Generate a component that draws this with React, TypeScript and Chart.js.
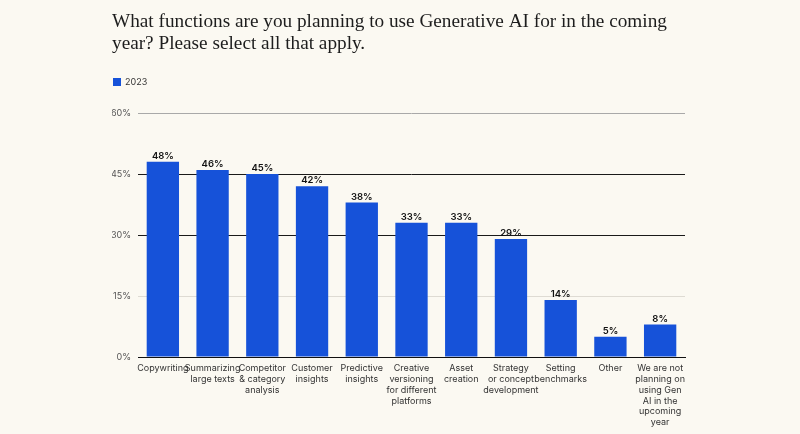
import React, { useEffect, useRef } from "react";
import { Chart, registerables } from "chart.js";

Chart.register(...registerables);

const titleLines = [
  "What functions are you planning to use Generative AI for in the coming",
  "year? Please select all that apply.",
];
const seriesName = "2023";
const categories: string[][] = [
  ["Copywriting"],
  ["Summarizing", "large texts"],
  ["Competitor", "& category", "analysis"],
  ["Customer", "insights"],
  ["Predictive", "insights"],
  ["Creative", "versioning", "for different", "platforms"],
  ["Asset", "creation"],
  ["Strategy", "or concept", "development"],
  ["Setting", "benchmarks"],
  ["Other"],
  ["We are not", "planning on", "using Gen", "AI in the", "upcoming", "year"],
];
const values = [48, 46, 45, 42, 38, 33, 33, 29, 14, 5, 8];
const yTicks = [0, 15, 30, 45, 60];

const BAR = "#1652d9";
const BG = "#fbf9f2";

export default function App() {
  const ref = useRef<HTMLCanvasElement>(null);
  useEffect(() => {
    document.body.style.margin = "0";
    const canvas = ref.current!;
    const labelPlugin = {
      id: "extras",
      afterDatasetsDraw(chart: any) {
        const ctx = chart.ctx;
        const meta = chart.getDatasetMeta(0);
        ctx.save();
        ctx.fillStyle = "#111";
        ctx.font = "600 9.5px Inter, 'Liberation Sans', sans-serif";
        ctx.textAlign = "center";
        ctx.textBaseline = "bottom";
        meta.data.forEach((bar: any, i: number) => {
          ctx.fillText(values[i] + "%", bar.x, bar.y - 1);
        });
        ctx.restore();
      },
      afterDraw(chart: any) {
        const ctx = chart.ctx;
        ctx.save();
        ctx.fillStyle = "#1d1d1d";
        ctx.font = "19.25px 'Liberation Serif', 'DejaVu Serif', serif";
        ctx.textAlign = "left";
        ctx.textBaseline = "alphabetic";
        ctx.fillText(titleLines[0], 112, 27);
        ctx.fillText(titleLines[1], 112, 49);
        ctx.fillStyle = BAR;
        ctx.fillRect(113, 78, 8, 8);
        ctx.fillStyle = "#333";
        ctx.font = "9px Inter, 'Liberation Sans', sans-serif";
        ctx.textBaseline = "middle";
        ctx.fillText(seriesName, 125, 82);
        ctx.restore();
      },
    };
    const chart = new Chart(canvas, {
      type: "bar",
      data: {
        labels: categories,
        datasets: [
          {
            label: seriesName,
            data: values,
            backgroundColor: BAR,
            categoryPercentage: 1,
            barPercentage: 0.65,
          },
        ],
      },
      options: {
        animation: false,
        responsive: false,
        maintainAspectRatio: false,
        layout: { padding: { left: 112, right: 115, top: 113, bottom: 0 } },
        plugins: {
          legend: { display: false },
          title: { display: false },
          tooltip: { enabled: false },
        },
        scales: {
          x: {
            grid: { display: false, drawTicks: false },
            border: { display: true, color: "#111", width: 1 },
            ticks: {
              color: "#333",
              font: { size: 9, family: "Inter, 'Liberation Sans', sans-serif", lineHeight: 1.2 },
              padding: 6,
              maxRotation: 0,
              autoSkip: false,
            },
            afterFit(axis: any) {
              axis.height = 77;
            },
          },
          y: {
            min: 0,
            max: 60,
            afterBuildTicks(axis: any) {
              axis.ticks = yTicks.map((v) => ({ value: v }));
            },
            border: { display: false },
            grid: {
              drawTicks: false,
              lineWidth: 1,
              color: (c: any) => {
                const v = c.tick && c.tick.value;
                if (v === 60) return "#a9a9a9";
                if (v === 15) return "#dedbd3";
                if (v === 0) return "#111";
                return "#1a1a1a";
              },
            },
            ticks: {
              color: "#555",
              font: { size: 9, family: "Inter, 'Liberation Sans', sans-serif" },
              padding: 7,
              callback: (v: any) => v + "%",
            },
            afterFit(axis: any) {
              axis.width = 26;
            },
          },
        },
      },
      plugins: [labelPlugin],
    });
    return () => chart.destroy();
  }, []);
  return (
    <div style={{ width: 800, height: 434, background: BG }}>
      <canvas ref={ref} width={800} height={434} style={{ display: "block" }} />
    </div>
  );
}
